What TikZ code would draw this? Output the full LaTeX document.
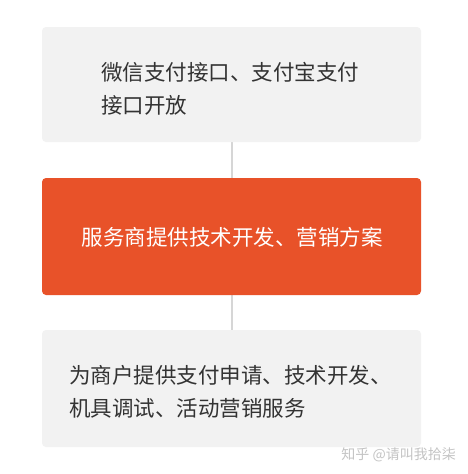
\documentclass[tikz,border=0pt]{standalone}
\usepackage{fontspec}
\setmainfont{Noto Sans CJK SC}
\definecolor{boxgray}{HTML}{F2F2F2}
\definecolor{boxorange}{HTML}{E85229}
\definecolor{txtdark}{HTML}{333333}
\definecolor{linegray}{HTML}{D6D6D6}
\definecolor{wmgray}{HTML}{C4C4C4}
\begin{document}
\begin{tikzpicture}[x=1pt,y=-1pt,
  card/.style={rounded corners=4pt},
  txt/.style={font=\fontsize{21.5}{33}\selectfont, anchor=west, align=left, inner sep=0pt},
  link/.style={draw=linegray, line width=1.2pt}]
\useasboundingbox (0,0) rectangle (467,474);
\fill[white] (0,0) rectangle (467,474);
\coordinate (b1s) at (232,142);
\coordinate (b2n) at (232,178);
\coordinate (b2s) at (232,295);
\coordinate (b3n) at (232,330);
\draw[link] (b1s) -- (b2n);
\draw[link] (b2s) -- (b3n);
\fill[boxgray,card] (42,27) rectangle (421,142);
\fill[boxorange,card] (42,178) rectangle (421,295);
\fill[boxgray,card] (42,330) rectangle (421,447);
\node[txt, text=txtdark] (t1) at (101,88.5) {微信支付接口、支付宝支付\\接口开放};
\node[txt, text=white, anchor=center] (t2) at (232,237) {服务商提供技术开发、营销方案};
\node[txt, text=txtdark] (t3) at (69,391.5) {为商户提供支付申请、技术开发、\\机具调试、活动营销服务};
\node[font=\fontsize{14}{16}\selectfont, text=wmgray, anchor=east, inner sep=0pt] (wm) at (456,455) {知乎 @请叫我拾柒};
\end{tikzpicture}
\end{document}
